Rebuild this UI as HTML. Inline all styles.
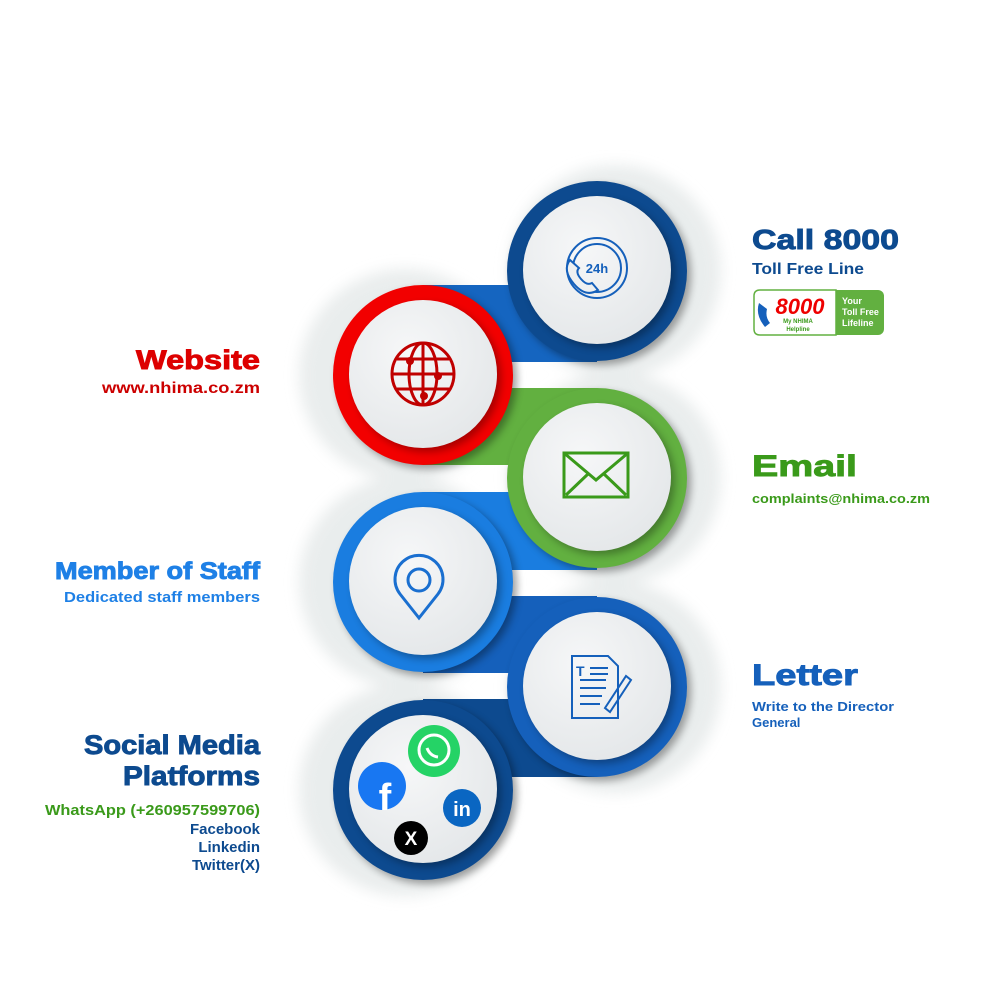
<!DOCTYPE html>
<html><head><meta charset="utf-8"><style>
html,body{margin:0;padding:0;background:#fff;}
svg{display:block;}
text{font-family:"Liberation Sans",sans-serif;font-weight:bold;}
.t{stroke-width:0.9;}
</style></head><body>
<svg width="1000" height="1000" viewBox="0 0 1000 1000" xmlns="http://www.w3.org/2000/svg">
<defs>
<filter id="halo" x="-50%" y="-50%" width="200%" height="200%"><feGaussianBlur stdDeviation="7"/></filter>
<filter id="sh" x="-30%" y="-30%" width="160%" height="160%"><feGaussianBlur stdDeviation="4"/></filter>
<radialGradient id="inner" cx="0.4" cy="0.35" r="0.7"><stop offset="0" stop-color="#f6f7f8"/><stop offset="1" stop-color="#e4e7e9"/></radialGradient>
</defs>

<!-- halos -->
<g fill="#e6eaea" filter="url(#halo)" opacity="0.85">
<circle cx="405" cy="375" r="106"/><circle cx="405" cy="582" r="106"/><circle cx="405" cy="790" r="106"/>
<circle cx="615" cy="271" r="106"/><circle cx="615" cy="478" r="106"/><circle cx="615" cy="687" r="106"/>
</g>

<!-- bars -->
<rect x="423" y="285" width="174" height="77" fill="#1565c0"/>
<rect x="423" y="388" width="174" height="77" fill="#62b040"/>
<rect x="423" y="492" width="174" height="78" fill="#1a7de0"/>
<rect x="423" y="596" width="174" height="77" fill="#1560bb"/>
<rect x="423" y="699" width="174" height="78" fill="#0d4a8f"/>

<!-- Call -->
<circle cx="601" cy="275" r="90" fill="#000" opacity="0.35" filter="url(#sh)"/>
<circle cx="597" cy="271" r="90" fill="#0d4a8f"/>
<circle cx="601" cy="274" r="74" fill="#000" opacity="0.3" filter="url(#sh)"/>
<circle cx="597" cy="270" r="74" fill="url(#inner)"/>
<!-- Website -->
<circle cx="427" cy="379" r="90" fill="#000" opacity="0.35" filter="url(#sh)"/>
<circle cx="423" cy="375" r="90" fill="#f20000"/>
<circle cx="427" cy="378" r="74" fill="#000" opacity="0.3" filter="url(#sh)"/>
<circle cx="423" cy="374" r="74" fill="url(#inner)"/>
<!-- Email -->
<circle cx="601" cy="482" r="90" fill="#000" opacity="0.35" filter="url(#sh)"/>
<circle cx="597" cy="478" r="90" fill="#62b040"/>
<circle cx="601" cy="481" r="74" fill="#000" opacity="0.3" filter="url(#sh)"/>
<circle cx="597" cy="477" r="74" fill="url(#inner)"/>
<!-- Member -->
<circle cx="427" cy="586" r="90" fill="#000" opacity="0.35" filter="url(#sh)"/>
<circle cx="423" cy="582" r="90" fill="#1a7de0"/>
<circle cx="427" cy="585" r="74" fill="#000" opacity="0.3" filter="url(#sh)"/>
<circle cx="423" cy="581" r="74" fill="url(#inner)"/>
<!-- Letter -->
<circle cx="601" cy="691" r="90" fill="#000" opacity="0.35" filter="url(#sh)"/>
<circle cx="597" cy="687" r="90" fill="#1560bb"/>
<circle cx="601" cy="690" r="74" fill="#000" opacity="0.3" filter="url(#sh)"/>
<circle cx="597" cy="686" r="74" fill="url(#inner)"/>
<!-- Social -->
<circle cx="427" cy="794" r="90" fill="#000" opacity="0.35" filter="url(#sh)"/>
<circle cx="423" cy="790" r="90" fill="#0d4a8f"/>
<circle cx="427" cy="793" r="74" fill="#000" opacity="0.3" filter="url(#sh)"/>
<circle cx="423" cy="789" r="74" fill="url(#inner)"/>

<!-- icons -->
<g fill="none" stroke="#1560bb" stroke-width="2">
<circle cx="597" cy="268" r="30"/><circle cx="597" cy="268" r="24"/>
<path d="M570 260 q-8 10 4 24 q12 14 24 6 l-6 -7 q-5 3 -11 -4 q-6 -7 -2 -11 z" fill="#eef0f1"/>
</g>
<text x="597" y="273" font-size="13" fill="#1560bb" text-anchor="middle">24h</text>
<g fill="none" stroke="#c00000" stroke-width="3">
<circle cx="423" cy="374" r="31"/>
<ellipse cx="423" cy="374" rx="14" ry="31"/>
<line x1="423" y1="343" x2="423" y2="405"/>
<line x1="392" y1="374" x2="454" y2="374"/>
<line x1="397" y1="359" x2="449" y2="359"/>
<line x1="397" y1="389" x2="449" y2="389"/>
</g>
<g fill="#c00000"><circle cx="410" cy="361" r="4"/><circle cx="438" cy="376" r="4"/><circle cx="424" cy="396" r="4"/></g>
<g fill="none" stroke="#3a9a1a" stroke-width="3">
<rect x="564" y="453" width="64" height="44"/>
<path d="M564 453 L596 480 L628 453"/><path d="M566 495 L588 474 M626 495 L604 474"/>
</g>
<g fill="none" stroke="#1a6fd0" stroke-width="3">
<path d="M419 618 L400 594 A24 24 0 1 1 438 594 Z"/>
<circle cx="419" cy="580" r="11"/>
</g>
<g fill="none" stroke="#1560bb" stroke-width="2">
<path d="M572 656 H608 L618 666 V718 H572 Z"/>
<path d="M580 680 H606 M580 688 H606 M580 696 H602 M580 704 H600 M590 668 H608 M590 674 H608"/>
<path d="M605 708 L626 676 L631 680 L610 712 Z"/>
</g>
<text x="576" y="676" font-size="14" fill="#1560bb" font-family="Liberation Serif">T</text>

<circle cx="434" cy="751" r="26" fill="#25d366"/>
<circle cx="434" cy="750" r="15" fill="none" stroke="#fff" stroke-width="3"/>
<path d="M427 748 q3 8 11 9" stroke="#fff" stroke-width="3" fill="none"/>
<circle cx="382" cy="786" r="24" fill="#1877f2"/>
<text x="385" y="810" font-size="38" fill="#fff" text-anchor="middle">f</text>
<circle cx="462" cy="808" r="19" fill="#0a66c2"/>
<text x="462" y="816" font-size="20" fill="#fff" text-anchor="middle">in</text>
<circle cx="411" cy="838" r="17" fill="#000"/>
<text x="411" y="845" font-size="19" fill="#fff" text-anchor="middle" font-weight="normal">X</text>

<!-- labels -->
<text class="t" x="752" y="249" font-size="28" fill="#0d4a8f" stroke="#0d4a8f" textLength="147" lengthAdjust="spacingAndGlyphs">Call 8000</text>
<text x="752" y="274" font-size="16" fill="#0d4a8f" textLength="112" lengthAdjust="spacingAndGlyphs">Toll Free Line</text>
<rect x="754" y="290" width="130" height="45" rx="6" fill="#62b040"/>
<path d="M760 290 H836 V335 H760 q-6 0 -6 -6 V296 q0 -6 6 -6z" fill="#fff" stroke="#62b040" stroke-width="1.5"/>
<path d="M759 303 q-4 12 6 24 l5 -4 q-5 -6 -3 -14 z" fill="#1560bb"/>
<text x="800" y="314" font-size="22" fill="#e00" text-anchor="middle" font-style="italic">8000</text>
<text x="798" y="323" font-size="6" fill="#3a9a1a" text-anchor="middle">My NHIMA</text>
<text x="798" y="331" font-size="6" fill="#3a9a1a" text-anchor="middle">Helpline</text>
<text x="842" y="304" font-size="9" fill="#fff" font-family="Liberation Serif">Your</text>
<text x="842" y="315" font-size="9" fill="#fff" font-family="Liberation Serif">Toll Free</text>
<text x="842" y="326" font-size="9" fill="#fff" font-family="Liberation Serif">Lifeline</text>

<text class="t" x="260" y="369" font-size="27" fill="#dd0000" stroke="#dd0000" text-anchor="end" textLength="124" lengthAdjust="spacingAndGlyphs">Website</text>
<text x="260" y="393" font-size="16" fill="#cc0000" text-anchor="end" textLength="158" lengthAdjust="spacingAndGlyphs">www.nhima.co.zm</text>

<text class="t" x="752" y="476" font-size="30" fill="#3a9a1a" stroke="#3a9a1a" textLength="105" lengthAdjust="spacingAndGlyphs">Email</text>
<text x="752" y="503" font-size="13" fill="#3a9a1a" textLength="178" lengthAdjust="spacingAndGlyphs">complaints@nhima.co.zm</text>

<text class="t" x="260" y="579" font-size="24" fill="#1e80e6" stroke="#1e80e6" text-anchor="end" textLength="205" lengthAdjust="spacingAndGlyphs">Member of Staff</text>
<text x="260" y="602" font-size="15" fill="#1e80e6" text-anchor="end" textLength="196" lengthAdjust="spacingAndGlyphs">Dedicated staff members</text>

<text class="t" x="752" y="685" font-size="30" fill="#1560bb" stroke="#1560bb" textLength="106" lengthAdjust="spacingAndGlyphs">Letter</text>
<text x="752" y="711" font-size="13" fill="#1560bb" textLength="142" lengthAdjust="spacingAndGlyphs">Write to the Director</text>
<text x="752" y="727" font-size="13" fill="#1560bb">General</text>

<text class="t" x="260" y="754" font-size="27" fill="#0d4a8f" stroke="#0d4a8f" text-anchor="end" textLength="176" lengthAdjust="spacingAndGlyphs">Social Media</text>
<text class="t" x="260" y="785" font-size="27" fill="#0d4a8f" stroke="#0d4a8f" text-anchor="end" textLength="137" lengthAdjust="spacingAndGlyphs">Platforms</text>
<text x="260" y="815" font-size="15" fill="#3a9a1a" text-anchor="end" textLength="215" lengthAdjust="spacingAndGlyphs">WhatsApp (+260957599706)</text>
<text x="260" y="834" font-size="15" fill="#0d4a8f" text-anchor="end">Facebook</text>
<text x="260" y="852" font-size="15" fill="#0d4a8f" text-anchor="end">Linkedin</text>
<text x="260" y="870" font-size="15" fill="#0d4a8f" text-anchor="end">Twitter(X)</text>
</svg>
</body></html>
